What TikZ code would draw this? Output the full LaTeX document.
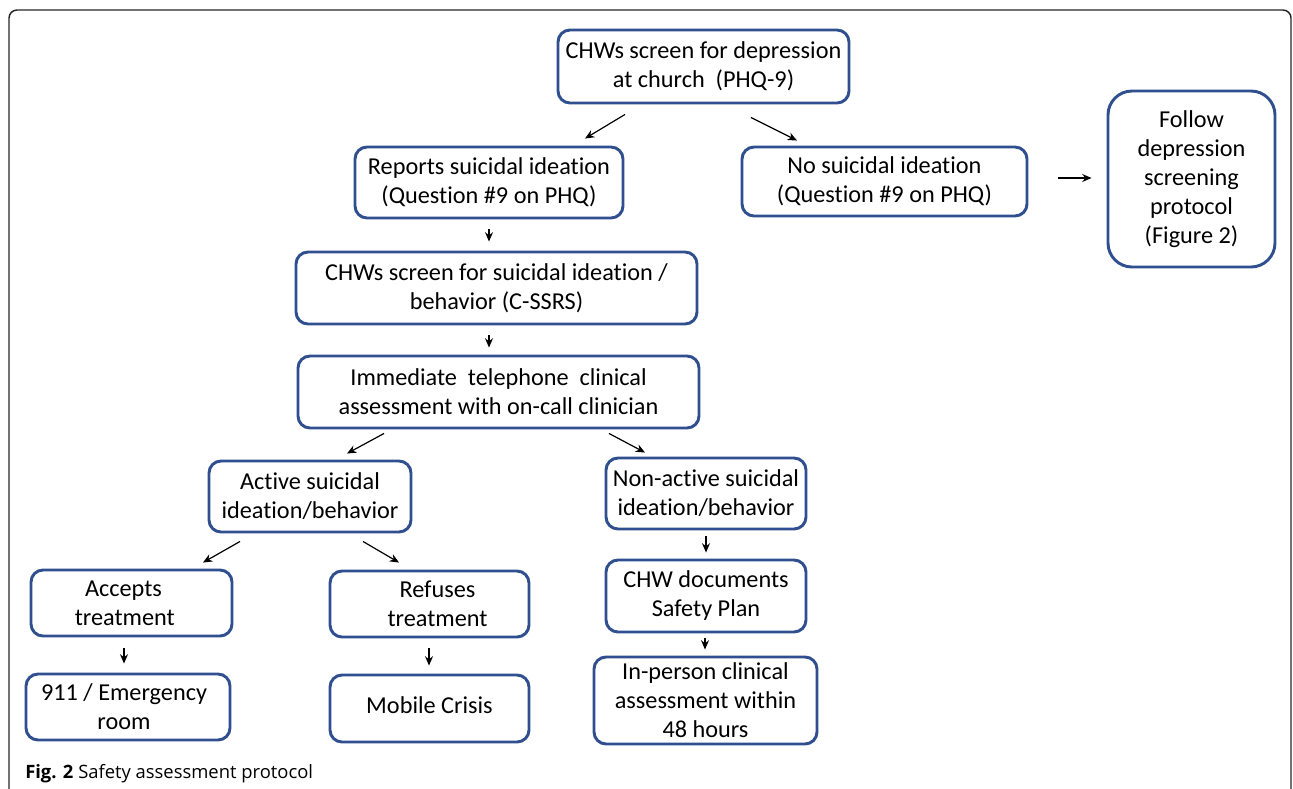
\documentclass[tikz,border=0pt]{standalone}
\usepackage{fontspec}
\setmainfont{Carlito}[Ligatures={NoCommon}]
\newfontfamily\capfont{Open Sans}
\usetikzlibrary{arrows.meta}
\definecolor{boxblue}{HTML}{2F4F8F}
\tikzset{
  box/.style 2 args={draw=boxblue, line width=2.2pt, rounded corners=9pt,
    minimum width=#1*0.75pt, minimum height=#2*0.75pt, inner sep=0pt,
    align=center, font=\fontsize{18.2}{21.75}\selectfont},
  arr/.style={-{Stealth[length=7pt,width=6pt]}, line width=0.9pt, black},
  frame/.style={line width=1.1pt, rounded corners=6pt, black!85}
}
\begin{document}
\begin{tikzpicture}[x=0.75pt,y=-0.75pt]
\useasboundingbox (0,0) rectangle (1293,789);
\draw[frame] (9,789) -- (9,10) -- (1291,10) -- (1291,789);

\node[box={291}{73}] (top) at (703.5,66.5) {CHWs screen for depression\\at church~~(PHQ-9)};
\node[box={268}{71}] (rep) at (489,182.5) {Reports suicidal ideation\\(Question \#9 on PHQ)};
\node[box={285}{69}] (no) at (884.5,181.5) {No suicidal ideation\\(Question \#9 on PHQ)};
\node[box={167}{176}, rounded corners=18pt] (fol) at (1191.5,179) {Follow\\depression\\screening\\protocol\\(Figure 2)};
\node[box={401}{72}] (scr) at (496.5,288) {CHWs screen for suicidal ideation /\\behavior (C-SSRS)};
\node[box={401}{72}] (imm) at (498.5,392) {Immediate~ telephone~ clinical\\assessment with on-call clinician};
\node[box={202}{71}] (act) at (310,496.5) {Active suicidal\\ideation/behavior};
\node[box={200}{71}] (non) at (706,493.5) {Non-active suicidal\\ideation/behavior};
\node[box={201}{66}] (acc) at (131.5,603) {Accepts\hspace*{12pt}\\treatment\hspace*{10pt}};
\node[box={199}{66}] (ref) at (429.5,604) {\hspace*{12pt}Refuses\\\hspace*{12pt}treatment};
\node[box={200}{72}] (doc) at (706,596) {CHW documents\\Safety Plan};
\node[box={204}{66}] (e911) at (128,707) {911 / Emergency\hspace*{6pt}\\room\hspace*{6pt}};
\node[box={199}{67}] (mob) at (429.5,708.5) {\raisebox{5pt}{Mobile Crisis}};
\node[box={223}{87}] (inp) at (705.5,700.5) {In-person clinical\\assessment within\\48 hours};

\draw[arr] ([shift={(-78.5,10)}]top.south) -- ([shift={(96,-7)}]rep.north);
\draw[arr] ([shift={(47.5,13)}]top.south) -- ([shift={(-87.5,-5)}]no.north);
\draw[arr] ([shift={(30,-3.5)}]no.east) -- ([shift={(-15,-1)}]fol.west);
\draw[arr] ([shift={(0,10)}]rep.south) -- ([shift={(-7.5,-9)}]scr.north);
\draw[arr] ([shift={(-7.5,10)}]scr.south) -- ([shift={(-9.5,-7)}]imm.north);
\draw[arr] ([shift={(-114.5,4)}]imm.south) -- ([shift={(37,-6)}]act.north);
\draw[arr] ([shift={(110.5,4)}]imm.south) -- ([shift={(-61,-4)}]non.north);
\draw[arr] ([shift={(-70,8)}]act.south) -- ([shift={(71.5,-6)}]acc.north);
\draw[arr] ([shift={(53,8)}]act.south) -- ([shift={(-30.5,-7)}]ref.north);
\draw[arr] ([shift={(-7.5,11)}]acc.south) -- ([shift={(-4,-9)}]e911.north);
\draw[arr] ([shift={(-0.5,10)}]ref.south) -- ([shift={(-0.5,-8)}]mob.north);
\draw[arr] ([shift={(0,6)}]non.south) -- ([shift={(0,-6)}]doc.north);
\draw[arr] ([shift={(-1,5)}]doc.south) -- ([shift={(-0.5,-6)}]inp.north);

\node[anchor=base west, inner sep=0pt, font=\capfont\fontsize{13.8}{16}\selectfont] (cap) at (25,778) {\textbf{Fig. 2} Safety assessment protocol};
\end{tikzpicture}
\end{document}
